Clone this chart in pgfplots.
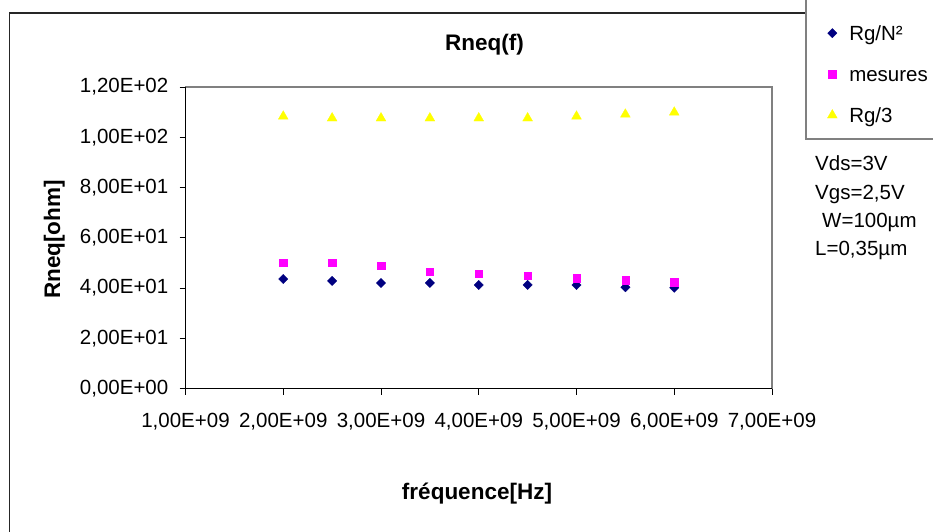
\documentclass[border=0pt]{standalone}
\usepackage{pgfplots}
\pgfplotsset{compat=1.18}
\usepackage{fontspec}
\setmainfont{Liberation Sans}

\definecolor{rgnavy}{RGB}{0,0,128}
\definecolor{mesmag}{RGB}{255,0,255}
\definecolor{rgyel}{RGB}{255,255,0}
\definecolor{framegray}{RGB}{128,128,128}

\newcommand{\tickfont}{\fontsize{20.5}{23}\selectfont}
\newcommand{\boldfont}{\fontsize{22.5}{25}\selectfont\bfseries}

\begin{document}
\begin{tikzpicture}[x=1pt,y=1pt]
\useasboundingbox (0,0) rectangle (933,531);
% chart area frame
\begin{scope}
  \clip (0,0) rectangle (933,531);
  \draw[black!85, line width=1.4pt] (9.5,-30) rectangle (990,518);
  % legend frame
  \draw[framegray, line width=1.3pt, fill=white] (806,570) -- (806,392) -- (990,392) -- (990,570) -- cycle;
\end{scope}

\begin{axis}[
  at={(185.5pt,142.5pt)}, anchor=south west,
  scale only axis, width=586.5pt, height=301.5pt,
  xmin=1e9, xmax=7e9, ymin=0, ymax=120,
  scaled x ticks=false, scaled y ticks=false,
  xtick={1e9,2e9,3e9,4e9,5e9,6e9,7e9},
  xticklabels={{1,00E+09},{2,00E+09},{3,00E+09},{4,00E+09},{5,00E+09},{6,00E+09},{7,00E+09}},
  ytick={0,20,40,60,80,100,120},
  yticklabels={{0,00E+00},{2,00E+01},{4,00E+01},{6,00E+01},{8,00E+01},{1,00E+02},{1,20E+02}},
  axis line style={draw=framegray, line width=1.2pt},
  tick align=outside, xtick pos=lower, ytick pos=left,
  major tick length=6pt,
  tick style={black, line width=0.9pt},
  xticklabel style={font=\tickfont, anchor=base, inner sep=0pt, yshift=-33pt},
  yticklabel style={font=\tickfont, anchor=east, inner sep=0pt, xshift=-11pt},
  clip=false,
  legend style={draw=none, fill=none, inner sep=0pt, font=\tickfont,
    at={(axis description cs:1.0941,1.2023)}, anchor=north west,
    row sep=23pt,
    nodes={inner sep=0pt, text height=14pt, text depth=4pt, anchor=base west},
    /tikz/every odd column/.append style={column sep=12pt}},
  legend cell align=left,
  legend image code/.code={\draw[#1] plot coordinates {(0pt,7pt)};},
]
\draw[black, line width=1.2pt] (rel axis cs:0,1) -- (rel axis cs:0,0) -- (rel axis cs:1,0);

% Rg/N^2
\addplot[only marks, color=rgnavy, mark=square*, mark size=3.3pt,
  mark options={rotate=45, fill=rgnavy, draw=rgnavy, line width=0.3pt}]
  table {
x y
2.0e9 43.6
2.5e9 42.8
3.0e9 42.0
3.5e9 42.0
4.0e9 41.2
4.5e9 41.2
5.0e9 41.2
5.5e9 40.3
6.0e9 40.1
};
\addlegendentry{Rg/N²}

% mesures
\addplot[only marks, color=mesmag, mark=square*, mark size=3.7pt,
  mark options={fill=mesmag, draw=mesmag, line width=0.3pt}]
  table {
x y
2.0e9 50.2
2.5e9 50.2
3.0e9 48.8
3.5e9 46.4
4.0e9 45.6
4.5e9 44.8
5.0e9 44.0
5.5e9 43.2
6.0e9 42.4
};
\addlegendentry{mesures}

% Rg/3
\addplot[only marks, color=rgyel, mark=triangle*, mark size=5.7pt,
  mark options={fill=rgyel, draw=rgyel, line width=0.3pt}]
  table {
x y
2.0e9 108.3
2.5e9 107.6
3.0e9 107.6
3.5e9 107.6
4.0e9 107.6
4.5e9 107.6
5.0e9 108.3
5.5e9 109.1
6.0e9 109.9
};
\addlegendentry{Rg/3}
\end{axis}

% titles
\node[anchor=base, inner sep=0pt, font=\boldfont] at (484.5,480) {Rneq(f)};
\node[anchor=base, inner sep=0pt, font=\boldfont] at (477,31.7) {fréquence[Hz]};
\node[anchor=base, inner sep=0pt, rotate=90, font=\boldfont] at (60,291.5) {Rneq[ohm]};

% bias conditions
\node[anchor=base west, inner sep=0pt, font=\tickfont] at (815,360) {Vds=3V};
\node[anchor=base west, inner sep=0pt, font=\tickfont] at (815,332) {Vgs=2,5V};
\node[anchor=base west, inner sep=0pt, font=\tickfont] at (822,304) {W=100µm};
\node[anchor=base west, inner sep=0pt, font=\tickfont] at (815,276) {L=0,35µm};
\end{tikzpicture}
\end{document}
